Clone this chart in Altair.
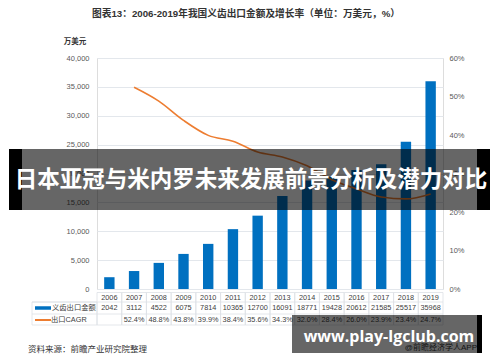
import altair as alt
import pandas as pd

years = ["2006", "2007", "2008", "2009", "2010", "2011", "2012", "2013",
         "2014", "2015", "2016", "2017", "2018", "2019"]
export_value = [2042, 3112, 4522, 6075, 7814, 10365, 12700, 16091,
                18771, 19428, 20612, 21585, 25517, 35968]
cagr = [None, 52.4, 48.8, 43.8, 39.9, 38.4, 35.6, 34.3,
        32.0, 28.4, 26.0, 23.9, 23.4, 24.7]

left_ticks = [0, 5000, 10000, 15000, 20000, 25000, 30000, 35000, 40000]
right_ticks = [0, 10, 20, 30, 40, 50, 60]

title_text = "图表13：2006-2019年我国义齿出口金额及增长率（单位：万美元，%）"
unit_text = "万美元"
legend_bar = "义齿出口金额"
legend_line = "出口CAGR"
source_text = "资料来源：前瞻产业研究院整理"
banner_text = "日本亚冠与米内罗未来发展前景分析及潜力对比"
url_text = "www.play-lgclub.com"
app_text = "@前瞻经济学人APP"

FONT = "Liberation Sans, Noto Sans CJK SC"
BLUE = "#0070C0"
ORANGE = "#ED7D31"
GRID = "#e3e7ec"
W, H = 346, 231

df = pd.DataFrame({
    "year": years,
    "value": export_value,
    "cagr": cagr,
    "value_label": [str(v) for v in export_value],
    "cagr_label": ["" if c is None else f"{c:.1f}%" for c in cagr],
})

xs = alt.X("year:N", sort=years, axis=None,
           scale=alt.Scale(paddingInner=0, paddingOuter=0))

bars = alt.Chart(df).mark_bar(color=BLUE, width=alt.RelativeBandSize(0.42)).encode(
    x=xs,
    y=alt.Y("value:Q", scale=alt.Scale(domain=[0, 40000], nice=False),
            axis=alt.Axis(values=left_ticks,
                          labelExpr="format(datum.value, ',.0f')",
                          grid=True, gridColor=GRID,
                          domain=False, ticks=False, labelPadding=8,
                          labelColor="#595959", labelFontSize=7.5,
                          labelFont=FONT, title=None)),
)

line = alt.Chart(df).transform_filter("datum.cagr != null").mark_line(
    color=ORANGE, strokeWidth=1.6, interpolate="monotone").encode(
    x=xs,
    y=alt.Y("cagr:Q", scale=alt.Scale(domain=[0, 60], nice=False),
            axis=alt.Axis(orient="right", values=right_ticks,
                          labelExpr="datum.value + '%'", grid=False,
                          domain=False, ticks=False, labelPadding=6,
                          labelColor="#595959", labelFontSize=7.5,
                          labelFont=FONT, title=None)),
)

# data table below the plot
cells = alt.Chart(df).mark_rect(fill=None, stroke="#dde1e6", strokeWidth=0.8).encode(
    x=xs, y=alt.value(234.5), y2=alt.value(267))
row_lines = alt.Chart(pd.DataFrame({"r": [244, 256]})).mark_rule(
    color="#dde1e6", strokeWidth=0.8).encode(
    x=alt.value(-65), x2=alt.value(W), y=alt.Y("r:Q", scale=None))
left_cell = alt.Chart(pd.DataFrame({"a": [0]})).mark_rect(
    fill=None, stroke="#dde1e6", strokeWidth=0.8).encode(
    x=alt.value(-65), x2=alt.value(0), y=alt.value(244), y2=alt.value(267))

tstyle = dict(fontSize=7.3, color="#404040", baseline="middle", font=FONT)
year_row = alt.Chart(df).mark_text(**tstyle).encode(x=xs, y=alt.value(239.5), text="year:N")
val_row = alt.Chart(df).mark_text(**tstyle).encode(x=xs, y=alt.value(250), text="value_label:N")
cagr_row = alt.Chart(df).mark_text(**tstyle).encode(x=xs, y=alt.value(262), text="cagr_label:N")

one = pd.DataFrame({"a": [0]})
sw_bar = alt.Chart(one).mark_rule(color=BLUE, strokeWidth=3.5).encode(
    x=alt.value(-62), x2=alt.value(-46), y=alt.value(250))
sw_line = alt.Chart(one).mark_rule(color=ORANGE, strokeWidth=2).encode(
    x=alt.value(-62), x2=alt.value(-46), y=alt.value(262))
lg_bar = alt.Chart(one).mark_text(align="left", **tstyle).encode(
    x=alt.value(-45), y=alt.value(250), text=alt.value(legend_bar))
lg_line = alt.Chart(one).mark_text(align="left", **tstyle).encode(
    x=alt.value(-46), y=alt.value(262), text=alt.value(legend_line))

title = alt.Chart(one).mark_text(fontSize=9.7, fontWeight="bold", color="#333333",
                                 baseline="middle", font=FONT).encode(
    x=alt.value(149), y=alt.value(-44), text=alt.value(title_text))
unit = alt.Chart(one).mark_text(fontSize=7.5, fontWeight="bold", color="#333333",
                                baseline="middle", font=FONT).encode(
    x=alt.value(-22), y=alt.value(-16), text=alt.value(unit_text))
source = alt.Chart(one).mark_text(fontSize=8.5, color="#333333", align="left",
                                  baseline="middle", font=FONT).encode(
    x=alt.value(-69), y=alt.value(290.5), text=alt.value(source_text))
app = alt.Chart(one).mark_text(fontSize=8, color="#333333", align="right",
                               baseline="middle", font=FONT).encode(
    x=alt.value(380), y=alt.value(290), text=alt.value(app_text))

# overlay banners
b1_mid = alt.Chart(one).mark_rect(color="black", opacity=0.6).encode(
    x=alt.value(-75), x2=alt.value(380), y=alt.value(91), y2=alt.value(152))
b1_l = alt.Chart(one).mark_rect(color="black").encode(
    x=alt.value(-88), x2=alt.value(-75), y=alt.value(91), y2=alt.value(152))
b1_r = alt.Chart(one).mark_rect(color="black").encode(
    x=alt.value(380), x2=alt.value(393), y=alt.value(91), y2=alt.value(152))
b1_t = alt.Chart(one).mark_text(fontSize=22.5, fontWeight="bold", color="white",
                                baseline="middle", font="Noto Sans CJK SC").encode(
    x=alt.value(154), y=alt.value(122), text=alt.value(banner_text))

b2_mid = alt.Chart(one).mark_rect(color="black", opacity=0.6).encode(
    x=alt.value(195), x2=alt.value(380), y=alt.value(257), y2=alt.value(295))
b2_r = alt.Chart(one).mark_rect(color="black").encode(
    x=alt.value(380), x2=alt.value(385), y=alt.value(257), y2=alt.value(295))
b2_t = alt.Chart(one).mark_text(fontSize=16, fontWeight="bold", color="white",
                                baseline="middle", font="Open Sans").encode(
    x=alt.value(292), y=alt.value(279), text=alt.value(url_text))

chart = alt.layer(
    bars, line, cells, row_lines, left_cell, year_row, val_row, cagr_row,
    sw_bar, sw_line, lg_bar, lg_line, title, unit, source, app,
    b1_mid, b1_l, b1_r, b1_t, b2_mid, b2_r, b2_t,
).resolve_scale(y="independent").properties(
    width=W, height=H,
    autosize=alt.AutoSizeParams(type="none"),
    padding={"left": 89, "top": 50, "right": 49, "bottom": 65},
).configure_view(stroke=None).configure(font=FONT, background="white")

chart.save("out.html", embed_options={"renderer": "svg", "actions": False})
